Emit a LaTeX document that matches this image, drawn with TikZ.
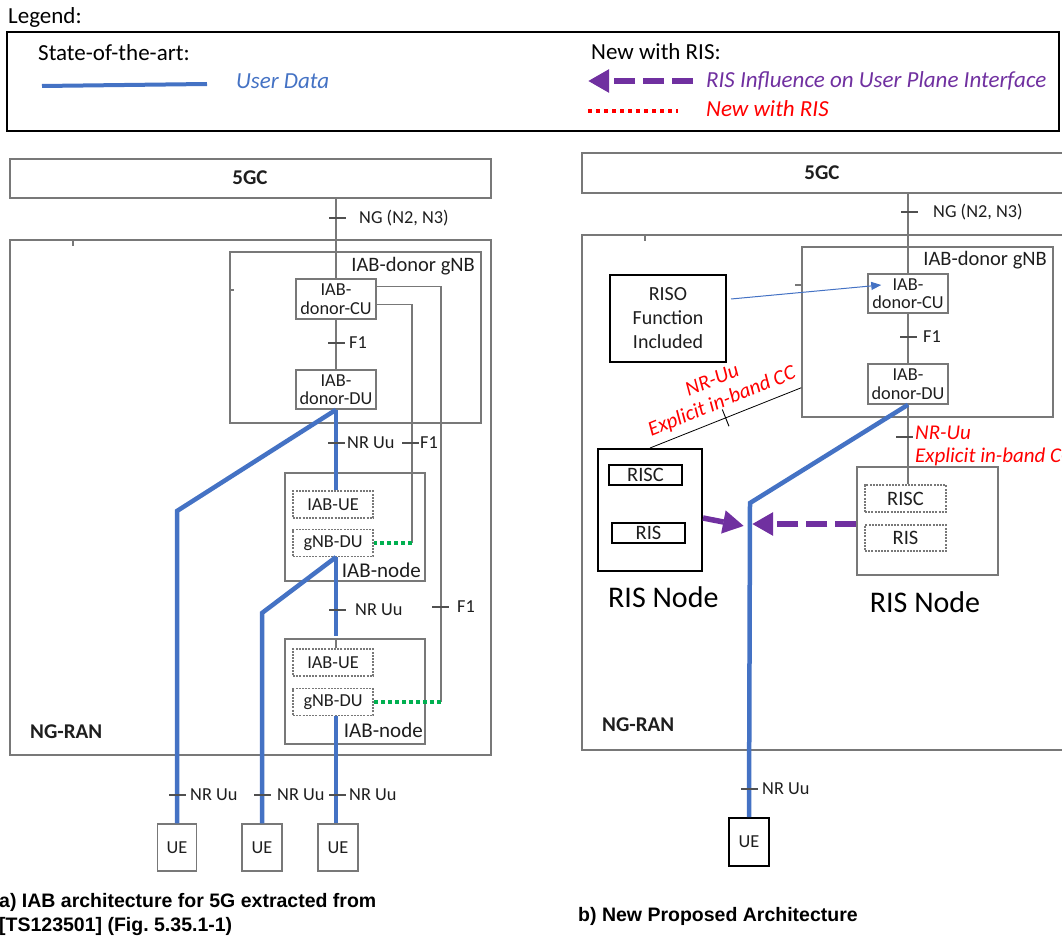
\documentclass[tikz,border=0pt]{standalone}
\usepackage{fontspec}
\setmainfont{Carlito}
\newfontfamily\capfont{Liberation Sans}
\usetikzlibrary{arrows.meta,calc}
\newcommand\setfs[2]{\fontsize{#1}{#2}\selectfont}
\definecolor{ublue}{RGB}{68,114,196}
\definecolor{upurple}{RGB}{112,48,160}
\definecolor{ugreen}{RGB}{0,176,80}
\definecolor{bgray}{RGB}{120,120,120}
\definecolor{tkcol}{RGB}{80,80,80}
\definecolor{tcol}{RGB}{30,30,30}
\begin{document}
\begin{tikzpicture}[x=1pt,y=-1pt,
  gbox/.style={draw=bgray, line width=1.5pt, inner sep=0pt, text=tcol},
  kbox/.style={draw=black, line width=2pt, inner sep=0pt, text=tcol},
  dbox/.style={draw=bgray, line width=1.2pt, dash pattern=on 2pt off 1.2pt, inner sep=0pt, text=tcol},
  gline/.style={draw=bgray, line width=1.2pt},
  uline/.style={draw=ublue, line width=4.5pt},
  gdot/.style={draw=ugreen, line width=3.5pt, dash pattern=on 4pt off 3pt},
  parrow/.style={draw=upurple, line width=5.5pt, dash pattern=on 21pt off 8pt, -{Triangle[length=21pt,width=22pt]}},
  tick/.style={fill=tkcol, draw=none, minimum width=17pt, minimum height=1.3pt, inner sep=0pt, shape=rectangle},
  lg/.style={font=\setfs{23}{27}, inner sep=0pt, text=black},
  lgi/.style={font=\setfs{23}{27}\itshape, inner sep=0pt},
  f17/.style={font=\setfs{18.3}{18.5}, inner sep=0pt, text=tcol},
  f19/.style={font=\setfs{20.5}{22}, inner sep=0pt, text=tcol},
  f20/.style={font=\setfs{21}{22}, inner sep=0pt, text=tcol},
  bf/.style={font=\setfs{21}{22}\bfseries, inner sep=0pt, text=tcol},
  redi/.style={font=\setfs{21}{22}\itshape, inner sep=0pt, text=red},
  capt/.style={font=\capfont\setfs{19.5}{23}\bfseries, inner sep=0pt, text=black, anchor=base west},
  big/.style={font=\setfs{30}{32}, inner sep=0pt, text=black}
]
\useasboundingbox (0,0) rectangle (1062,944);

% ---------------- Legend ----------------
\node[lg, anchor=west] (legend) at (8,17) {Legend:};
\node[draw=black, line width=1.6pt, inner sep=0pt, minimum width=1052pt, minimum height=99pt] (legbox) at (533,81.5) {};
\node[lg, anchor=west] (soa) at (38,53) {State-of-the-art:};
\coordinate (udA) at (42,86);
\coordinate (udB) at (207,84);
\draw[uline, line width=4pt] (udA) -- (udB);
\node[lgi, anchor=west, text=ublue] (udT) at (236,81) {User Data};
\node[lg, anchor=west] (nwr) at (591,52) {New with RIS:};
\coordinate (paA) at (693,81);
\coordinate (paB) at (588,81);
\draw[parrow] (paA) -- (paB);
\node[lgi, anchor=west, text=upurple] (paT) at (706,81) {RIS Influence on User Plane Interface};
\coordinate (rdA) at (588,111);
\coordinate (rdB) at (678,111);
\draw[draw=red, line width=4pt, dash pattern=on 4pt off 4pt] (rdA) -- (rdB);
\node[lgi, anchor=west, text=red] (rdT) at (706,109) {New with RIS};

% ---------------- Left diagram ----------------
\node[gbox, minimum width=481pt, minimum height=39pt] (cgL) at (250.5,178.5) {};
\node[bf] (cgLt) at (250,178) {5GC};
\node[gbox, minimum width=481pt, minimum height=515pt] (ranL) at (250.5,497.5) {};
\node[bf, anchor=west] (ranLt) at (30,732) {NG-RAN};
\node[gbox, minimum width=251pt, minimum height=171pt] (dnL) at (355.5,337.5) {};
\node[f19, anchor=east] (dnLt) at (475,266) {IAB-donor gNB};
\node[gbox, minimum width=80pt, minimum height=40pt, f17, align=center] (cuL) at (336,299) {IAB-\\donor-CU};
\node[gbox, minimum width=80pt, minimum height=39pt, f17, align=center] (duL) at (336,389.5) {IAB-\\donor-DU};

\node[gbox, minimum width=140pt, minimum height=108pt] (iab1) at (355,527) {};
\node[f20, anchor=east] (iab1t) at (421,570) {IAB-node};
\node[dbox, minimum width=80pt, minimum height=27pt, f17] (iue1) at (333,504.5) {IAB-UE};
\node[dbox, minimum width=80pt, minimum height=27pt, f17] (gdu1) at (333,543) {gNB-DU};

\node[gbox, minimum width=140pt, minimum height=105pt] (iab2) at (355,691.5) {};
\node[f20, anchor=east] (iab2t) at (423,730) {IAB-node};
\node[dbox, minimum width=80pt, minimum height=27pt, f17] (iue2) at (333,662.5) {IAB-UE};
\node[dbox, minimum width=80pt, minimum height=27pt, f17] (gdu2) at (333,702) {gNB-DU};

\node[gbox, minimum width=39pt, minimum height=47pt, f17] (ue1) at (177,847.5) {UE};
\node[gbox, minimum width=40pt, minimum height=47pt, f17] (ue2) at (262,847.5) {UE};
\node[gbox, minimum width=40pt, minimum height=47pt, f17] (ue3) at (338,847.5) {UE};

% gray interfaces
\draw[gline] (cuL.north |- cgL.south) -- (cuL.north);
\draw[gline] (cuL) -- (duL);
\draw[gline] ($(cuL.north east)+(0,8)$) -| (441,702) coordinate (f1o);
\draw[gline] ($(cuL.south east)+(0,-15)$) -| (412,543) coordinate (f1i);
\draw[gdot] (f1i) -- (gdu1.east);
\draw[gdot] (f1o) -- (gdu2.east);
\draw[gline] (duL.south |- iab2.north) -- (duL.south |- iue2.north);
% small marks
\draw[gline] (73,240) -- (73,246);
\draw[gline] (230,290) -- (234,290);

% user data
\coordinate (kL1) at (177,511);
\coordinate (kL2) at (262,613);
\draw[uline] (duL.south) -- (kL1) -- (ue1.north);
\draw[uline] (duL.south) -- (duL.south |- iue1.north);
\draw[uline] (duL.south |- gdu1.south) -- (kL2) -- (ue2.north);
\draw[uline] (duL.south |- gdu1.south) -- ($(duL.south |- iab2.north)+(0,-2)$);
\draw[uline] (duL.south |- gdu2.south) -- (duL.south |- ue3.north);

% ticks and labels
\node[tick] (tngL) at (337,218) {};
\node[f17, anchor=west] (tngLt) at (359,218) {NG (N2, N3)};
\node[tick] (tf1L) at (336,343) {};
\node[f17, anchor=west] (tf1Lt) at (349,343) {F1};
\node[tick] (tnr1) at (336,443) {};
\node[f17, anchor=west] (tnr1t) at (347,443) {NR Uu};
\node[tick] (tf1a) at (410,443) {};
\node[f17, anchor=west] (tf1at) at (420,443) {F1};
\node[tick] (tnr2) at (337,610) {};
\node[f17, anchor=west] (tnr2t) at (355,610) {NR Uu};
\node[tick] (tf1b) at (440,607) {};
\node[f17, anchor=west] (tf1bt) at (457,607) {F1};
\node[tick] (tu1) at (177,795) {};
\node[f17, anchor=west] (tu1t) at (190,795) {NR Uu};
\node[tick] (tu2) at (262,795) {};
\node[f17, anchor=west] (tu2t) at (277,795) {NR Uu};
\node[tick] (tu3) at (337,795) {};
\node[f17, anchor=west] (tu3t) at (349,795) {NR Uu};

\node[capt] (capA1) at (-1,907) {a) IAB architecture for 5G extracted from};
\node[capt] (capA2) at (-1,931) {[TS123501] (Fig.\ 5.35.1-1)};

% ---------------- Right diagram ----------------
\node[gbox, minimum width=490pt, minimum height=40pt] (cgR) at (827,173) {};
\node[bf] (cgRt) at (822,173) {5GC};
\node[gbox, minimum width=490pt, minimum height=515pt] (ranR) at (827,492.5) {};
\node[bf, anchor=west] (ranRt) at (602,725) {NG-RAN};
\node[gbox, minimum width=251pt, minimum height=170pt] (dnR) at (927.5,332) {};
\node[f19, anchor=east] (dnRt) at (1047,260) {IAB-donor gNB};
\node[gbox, minimum width=80pt, minimum height=39pt, f17, align=center] (cuR) at (908,293.5) {IAB-\\donor-CU};
\node[gbox, minimum width=80pt, minimum height=40pt, f17, align=center] (duR) at (908,384) {IAB-\\donor-DU};

\node[kbox, minimum width=116pt, minimum height=87pt, font=\setfs{20}{24}, align=center] (riso) at (668,318.5) {RISO\\Function\\Included};

\node[kbox, minimum width=104pt, minimum height=122pt] (risL) at (650,510) {};
\node[kbox, line width=1.8pt, minimum width=73pt, minimum height=20pt, f19] (riscL) at (645.5,475) {RISC};
\node[kbox, line width=1.8pt, minimum width=73pt, minimum height=20pt, f19] (risiL) at (648.5,533) {RIS};
\node[big, anchor=west] (risLt) at (608,597) {RIS Node};

\node[gbox, minimum width=141pt, minimum height=108pt] (risR) at (927.5,521) {};
\node[dbox, minimum width=81pt, minimum height=27pt, f19] (riscR) at (905.5,498.5) {RISC};
\node[dbox, minimum width=81pt, minimum height=26pt, f19] (risiR) at (905.5,538) {RIS};
\node[big] (risRt) at (925,602) {RIS Node};

\node[kbox, minimum width=40pt, minimum height=48pt, f17] (ueR) at (749,842) {UE};

% gray interfaces
\draw[gline] (cuR.north |- cgR.south) -- (cuR.north);
\draw[gline] (cuR) -- (duR);
\draw[gline] (duR.south) -- (duR.south |- riscR.north);
\coordinate (dnRw) at ($(dnR.south west)+(0,-30)$);
\draw[draw=black, line width=0.8pt] (risL.north) -- node[sloped, fill=black, draw=none, minimum width=0.9pt, minimum height=18pt, inner sep=0pt] (ccTick) {} (dnRw);
\node[redi, rotate=22] (ccA) at (712,380) {NR-Uu};
\node[redi, rotate=22] (ccB) at (722,402) {Explicit in-band CC};
% small marks
\draw[gline] (645,235) -- (645,241);
\draw[gline] (795,285) -- (802,285);

% RISO influence arrow
\draw[draw=ublue, line width=1pt, -{Triangle[length=10pt,width=8pt]}] ($(riso.east)+(4,-19.5)$) -- ($(cuR.west)+(14,-8.5)$);

% user data
\coordinate (kR) at (750,503);
\draw[uline] (duR.south) -- (kR) -- (ueR.north);

% RIS influence
\coordinate (pL) at (744,526);
\coordinate (pR) at (752,524);
\draw[parrow] ($(risL.east)+(0,8)$) -- (pL);
\draw[parrow] ($(risR.west)+(0,3)$) -- (pR);

% ticks and labels
\node[tick] (tngR) at (909,212) {};
\node[f17, anchor=west] (tngRt) at (933,212) {NG (N2, N3)};
\node[tick] (tf1R) at (908,337) {};
\node[f17, anchor=west] (tf1Rt) at (923,337) {F1};
\node[tick] (tnrR) at (904,437) {};
\node[redi, anchor=west] (tnrRt) at (915,433) {NR-Uu};
\node[redi, anchor=west] (tnrRt2) at (915,457) {Explicit in-band CC};
\node[tick] (tuR) at (749,789) {};
\node[f17, anchor=west] (tuRt) at (762,789) {NR Uu};

\node[capt] (capB) at (578,921) {b) New Proposed Architecture};
\end{tikzpicture}
\end{document}
